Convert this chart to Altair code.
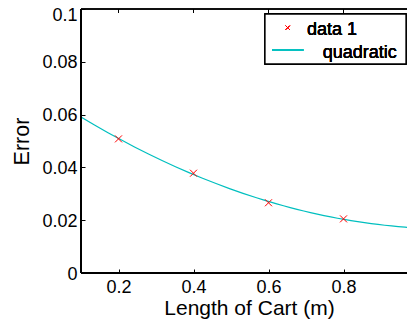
import altair as alt
import pandas as pd

# data
x_vals = [0.2, 0.4, 0.6, 0.8]
err_vals = [0.0508, 0.0378, 0.0266, 0.0205]
x_ticks = [0.2, 0.4, 0.6, 0.8]
y_ticks = [0, 0.02, 0.04, 0.06, 0.08, 0.1]
legend_labels = ["data 1", "quadratic"]

FONT = "Liberation Sans"
CYAN = "#00BFBF"
RED = "#FF0000"
W, H = 326, 264

df = pd.DataFrame({"x": x_vals, "y": err_vals})
tick_df = pd.DataFrame({"x": x_ticks})

xscale = alt.Scale(domain=[0.1, 0.1 + W / 375.0], nice=False, zero=False)
yscale = alt.Scale(domain=[0, 0.1], nice=False, zero=False)

x_axis = alt.Axis(
    orient="bottom", values=x_ticks, format="~g", offset=-4, tickSize=4,
    domain=False, grid=False, labelPadding=19, labelBaseline="alphabetic",
    labelFontSize=18, labelFont=FONT, labelColor="black", tickColor="black",
    title="Length of Cart (m)", titleFont=FONT, titleFontSize=21,
    titleFontWeight="normal", titleColor="black", titleBaseline="alphabetic",
    titleAlign="center", titleX=168, titleY=45,
)
y_axis = alt.Axis(
    orient="left", values=y_ticks, format="~g", offset=-4, tickSize=4,
    domain=False, grid=False, labelPadding=4,
    labelOffset={"condition": {"test": "datum.value >= 0.099", "value": 6}, "value": 1},
    labelFontSize=18, labelFont=FONT, labelColor="black", tickColor="black",
    title="Error", titleFont=FONT, titleFontSize=21.5, titleFontWeight="normal",
    titleColor="black", titleAngle=270, titleBaseline="alphabetic",
    titleAlign="center", titleX=-57, titleY=132,
)

X = alt.X("x:Q", scale=xscale, axis=x_axis)
Y = alt.Y("y:Q", scale=yscale, axis=y_axis)

base = alt.Chart(df)

fit = base.transform_regression(
    "x", "y", method="poly", order=2, extent=[0.1, 1.0]
).mark_line(color=CYAN, strokeWidth=1.2, clip=True).encode(x=X, y=Y)

xshape = "M-1,-1L1,1M-1,1L1,-1"
pts = base.mark_point(shape=xshape, size=49, filled=False, color=RED,
                      strokeWidth=1, opacity=1).encode(x=X, y=Y)

# inward ticks along the top edge
top_ticks = alt.Chart(tick_df).mark_rule(color="black", strokeWidth=1).encode(
    x=X, y=alt.value(0), y2=alt.value(4))

# frame (right edge lies outside the window in the reference)
frame_left = alt.Chart(df).mark_rule(color="black", strokeWidth=2).encode(
    x=alt.value(0), y=alt.value(0), y2=alt.value(H))
frame_bottom = alt.Chart(df).mark_rule(color="black", strokeWidth=2).encode(
    x=alt.value(0), x2=alt.value(W), y=alt.value(H))
frame_top = alt.Chart(df).mark_rule(color="black", strokeWidth=1).encode(
    x=alt.value(0), x2=alt.value(W), y=alt.value(0))

# legend (drawn by hand)
leg_box = alt.Chart(df).mark_rect(fill="white", stroke="black", strokeWidth=1.3).encode(
    x=alt.value(184), x2=alt.value(325), y=alt.value(5), y2=alt.value(55))
leg_pt = alt.Chart(df).mark_point(shape=xshape, size=16, filled=False, color=RED,
                                  strokeWidth=1, opacity=1).encode(
    x=alt.value(206.7), y=alt.value(18.7))
leg_line = alt.Chart(df).mark_rule(color=CYAN, strokeWidth=1.2).encode(
    x=alt.value(191), x2=alt.value(222.7), y=alt.value(41))
leg_t1 = alt.Chart(df).mark_text(text=legend_labels[0], align="left", baseline="alphabetic",
                                 font=FONT, fontSize=18, color="black").encode(
    x=alt.value(226), y=alt.value(26))
leg_t2 = alt.Chart(df).mark_text(text=legend_labels[1], align="left", baseline="alphabetic",
                                 font=FONT, fontSize=18, color="black").encode(
    x=alt.value(241.7), y=alt.value(49))

chart = alt.layer(
    fit, pts, top_ticks, frame_left, frame_bottom, frame_top,
    leg_box, leg_pt, leg_line, leg_t1, leg_t2,
).properties(
    width=W, height=H,
    autosize=alt.AutoSizeParams(type="none"),
    padding={"left": 73, "top": 1, "right": 0, "bottom": 46},
    background="white",
).configure_view(stroke=None)

chart.save("out.html", embed_options={"renderer": "svg", "actions": False})
